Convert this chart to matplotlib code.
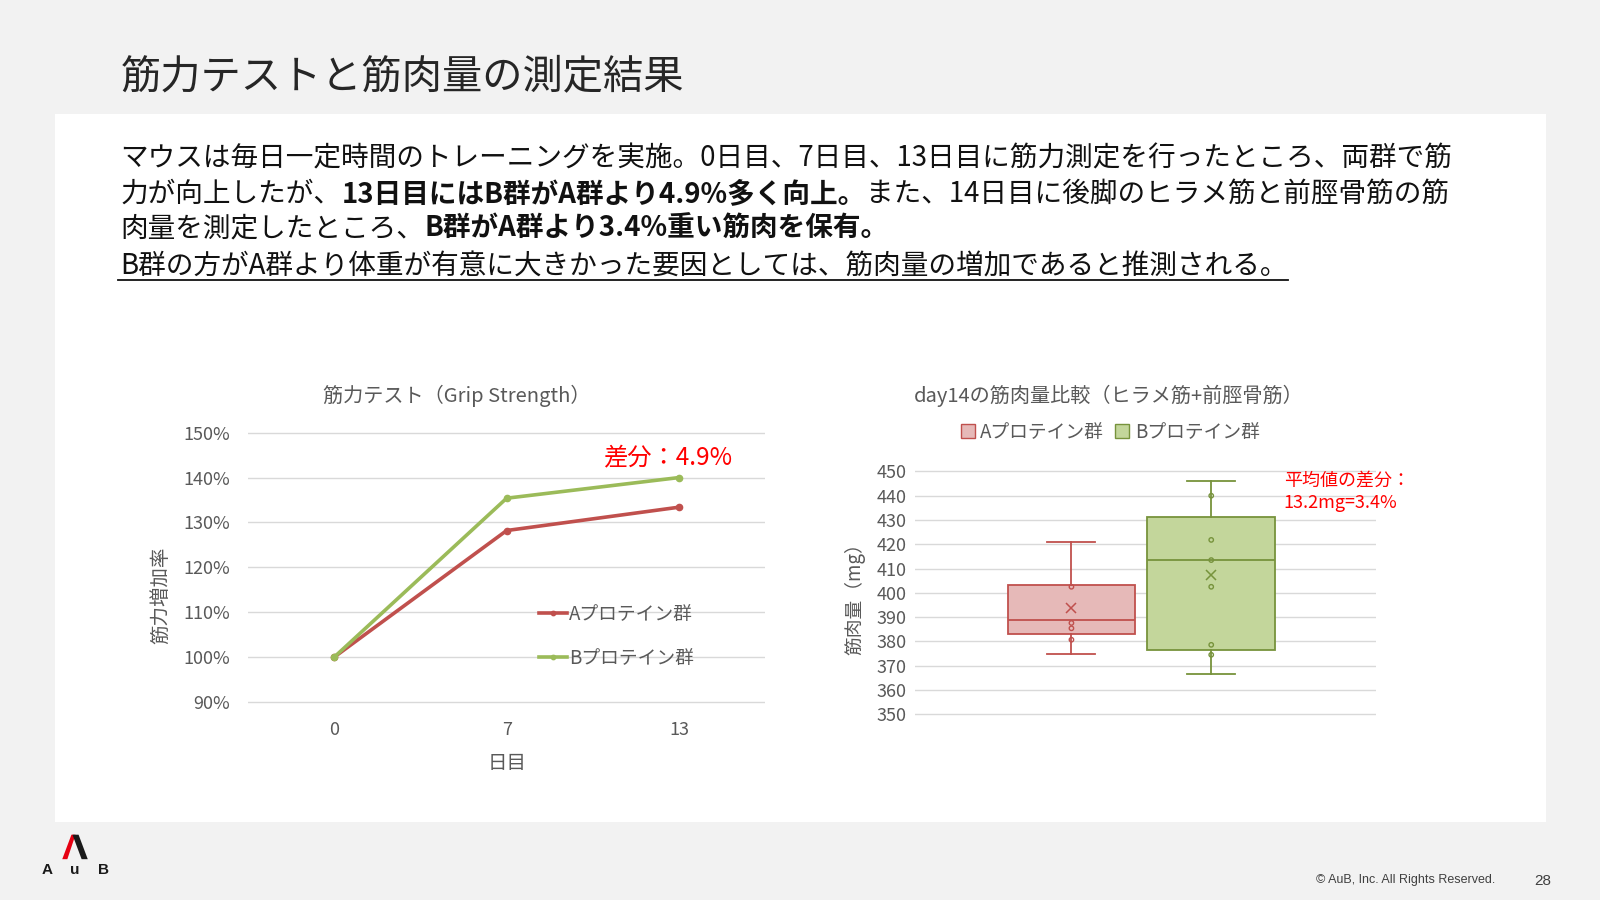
import matplotlib
matplotlib.use("Agg")
import matplotlib.pyplot as plt
from matplotlib.lines import Line2D
from matplotlib.patches import Rectangle, Polygon, Patch
from matplotlib.ticker import FuncFormatter

plt.rcParams['font.family'] = ['Noto Sans CJK JP', 'DejaVu Sans']

# ---- data ----
days = ['0', '7', '13']
grip_a = [1.00, 1.282, 1.334]
grip_b = [1.00, 1.354, 1.400]
grip_labels = ['Aプロテイン群', 'Bプロテイン群']

mass_groups = ['Aプロテイン群', 'Bプロテイン群']
mass_whislo = [374.8, 366.5]
mass_q1 = [383.0, 376.4]
mass_med = [388.8, 413.5]
mass_q3 = [403.4, 431.4]
mass_whishi = [421.0, 446.0]
mass_mean = [393.9, 407.5]
mass_points_a = [402.5, 387.6, 385.4, 380.7]
mass_points_b = [440.0, 421.8, 413.5, 402.5, 378.6, 374.5]

RED = '#c0504d'
GREEN = '#9bbb59'
GRID = '#d9d9d9'
TICK = '#595959'

W, H = 1568.0, 882.0   # reference pixel frame


def fx(px):
    return px / W


def fy(py):
    return 1 - py / H


fig = plt.figure(figsize=(16, 9), dpi=100, facecolor='#f2f2f2')

# white content panel
fig.add_artist(Rectangle((fx(54), fy(806)), fx(1515) - fx(54), (806 - 112) / H,
                         transform=fig.transFigure, facecolor='white',
                         edgecolor='none', zorder=0))

fig.text(fx(118), fy(75), '筋力テストと筋肉量の測定結果', fontsize=29,
         color='#262626', va='center', ha='left')

# ---- body text with bold runs ----
body = [
    [('マウスは毎日一定時間のトレーニングを実施。0日目、7日目、13日目に筋力測定を行ったところ、両群で筋', False)],
    [('力が向上したが、', False), ('13日目にはB群がA群より4.9%多く向上。', True),
     ('また、14日目に後脚のヒラメ筋と前脛骨筋の筋', False)],
    [('肉量を測定したところ、', False), ('B群がA群より3.4%重い筋肉を保有。', True)],
    [('B群の方がA群より体重が有意に大きかった要因としては、筋肉量の増加であると推測される。', False)],
]
line_y = [155, 190, 224, 261]
renderer = fig.canvas.get_renderer()
for i, runs in enumerate(body):
    x = fx(118)
    for s, bold in runs:
        t = fig.text(x, fy(line_y[i]), s, fontsize=19.9, color='#111111',
                     fontweight='bold' if bold else 'normal',
                     va='center', ha='left')
        x += t.get_window_extent(renderer=renderer).width / fig.bbox.width
    if i == 3:
        fig.add_artist(Line2D([fx(116), x], [fy(274), fy(274)],
                              transform=fig.transFigure, color='#111111', lw=1.3))

# ---- left chart: grip strength ----
pad1 = 0.005 * 440
ax1 = fig.add_axes([fx(243), fy(688 + pad1), fx(750) - fx(243), (264 + 2 * pad1) / H])
xs = range(len(days))
ax1.plot(xs, grip_a, color=RED, lw=2.6, marker='o', ms=4.5, label=grip_labels[0], zorder=3)
ax1.plot(xs, grip_b, color=GREEN, lw=2.6, marker='o', ms=4.5, label=grip_labels[1], zorder=3)
ax1.set_xlim(-0.5, 2.5)
ax1.set_ylim(0.895, 1.505)
ax1.set_yticks([0.9, 1.0, 1.1, 1.2, 1.3, 1.4, 1.5])
ax1.yaxis.set_major_formatter(FuncFormatter(lambda v, p: f'{v * 100:.0f}%'))
ax1.set_xticks(list(xs))
ax1.set_xticklabels(days)
ax1.grid(axis='y', color=GRID, lw=1)
ax1.set_axisbelow(True)
for sp in ax1.spines.values():
    sp.set_visible(False)
ax1.tick_params(length=0, labelsize=13, labelcolor=TICK)
ax1.tick_params(axis='y', pad=13)
ax1.tick_params(axis='x', pad=12)
ax1.set_xlabel('日目', fontsize=14, color=TICK, labelpad=10)
ax1.set_ylabel('筋力増加率', fontsize=14, color=TICK)
ax1.yaxis.set_label_coords((168 - 243) / 507, (688 - 583) / 264)
ax1.legend(loc='center left', bbox_to_anchor=((519 - 243) / 507, (688 - 622.5) / 264),
           frameon=False, fontsize=13.5, labelcolor=TICK, handlelength=1.5,
           handletextpad=0.1, labelspacing=1.25, borderpad=0, markerscale=0.7)
ax1.text(2.305, 1.4455, '差分：4.9%', fontsize=17.5, color='#ff0000',
         ha='right', va='center')
fig.text(fx(448), fy(388), '筋力テスト（Grip Strength）', fontsize=14.5,
         color=TICK, ha='center', va='center')

# ---- right chart: muscle mass boxplot ----
pad2 = 0.5 * 2.38
ax2 = fig.add_axes([fx(897), fy(700 + pad2), fx(1348) - fx(897), (238 + 2 * pad2) / H])
fills = ['#e6b9b8', '#c3d69b']
edges = [RED, '#77933c']
stats = []
for i in range(2):
    stats.append(dict(label=mass_groups[i], whislo=mass_whislo[i], q1=mass_q1[i],
                      med=mass_med[i], q3=mass_q3[i], whishi=mass_whishi[i],
                      mean=mass_mean[i], fliers=[]))
bp = ax2.bxp(stats, positions=[1, 2], widths=0.912, capwidths=0.343,
             patch_artist=True, showmeans=True, showfliers=False)
for i in range(2):
    bp['boxes'][i].set(facecolor=fills[i], edgecolor=edges[i], lw=1.3)
    bp['medians'][i].set(color=edges[i], lw=1.3)
    for k in (2 * i, 2 * i + 1):
        bp['whiskers'][k].set(color=edges[i], lw=1.3)
        bp['caps'][k].set(color=edges[i], lw=1.3)
    bp['means'][i].set(marker='x', markeredgecolor=edges[i], markerfacecolor='none',
                       markersize=7, markeredgewidth=1.1)
ax2.scatter([1] * len(mass_points_a), mass_points_a, s=10, facecolor='none',
            edgecolor=edges[0], lw=1, zorder=4)
ax2.scatter([2] * len(mass_points_b), mass_points_b, s=10, facecolor='none',
            edgecolor=edges[1], lw=1, zorder=4)
ax2.set_xlim(1 - 153 / 137, 2 + 161 / 137)
ax2.set_ylim(349.5, 450.5)
ax2.set_yticks(range(350, 451, 10))
ax2.set_xticks([])
ax2.grid(axis='y', color=GRID, lw=1)
ax2.set_axisbelow(True)
for sp in ax2.spines.values():
    sp.set_visible(False)
ax2.tick_params(length=0, labelsize=13, labelcolor=TICK, pad=6)
ax2.set_ylabel('筋肉量（mg）', fontsize=13.5, color=TICK)
ax2.yaxis.set_label_coords((848 - 897) / 451, (700 - 582) / 238)
handles = [Patch(facecolor=fills[i], edgecolor=edges[i], label=mass_groups[i]) for i in range(2)]
ax2.legend(handles=handles, loc='center', ncol=2,
           bbox_to_anchor=((1088 - 897) / 451, (700 - 425) / 238),
           frameon=False, fontsize=13.5, labelcolor=TICK, handlelength=0.75,
           handleheight=0.75, handletextpad=0.3, columnspacing=0.6, borderpad=0)
fig.text(fx(1087), fy(388), 'day14の筋肉量比較（ヒラメ筋+前脛骨筋）', fontsize=14.5,
         color=TICK, ha='center', va='center')
fig.text(fx(1258), fy(482), '平均値の差分：\n13.2mg=3.4%', fontsize=13,
         color='#ff0000', ha='left', va='center', linespacing=1.3)

# ---- footer ----
fig.add_artist(Polygon([(fx(61), fy(842)), (fx(66), fy(842)), (fx(74), fy(818)), (fx(70), fy(818))],
                       closed=True, transform=fig.transFigure, facecolor='#e60012', edgecolor='none'))
fig.add_artist(Polygon([(fx(71), fy(818)), (fx(77), fy(818)), (fx(86), fy(842)), (fx(80), fy(842))],
                       closed=True, transform=fig.transFigure, facecolor='#1a1a1a', edgecolor='none'))
for ch, px in zip(['A', 'u', 'B'], [46, 73, 101]):
    fig.text(fx(px), fy(853), ch, fontsize=11, fontweight='bold', color='#1a1a1a',
             ha='center', va='center', family=['Liberation Sans', 'DejaVu Sans'])
fig.text(fx(1465), fy(862), '© AuB, Inc. All Rights Reserved.', fontsize=9,
         color='#404040', ha='right', va='center', family=['Liberation Sans', 'DejaVu Sans'])
fig.text(fx(1512), fy(863), '28', fontsize=11, color='#404040', ha='center',
         va='center', family=['Liberation Sans', 'DejaVu Sans'])

fig.savefig('out.png', dpi=100, facecolor=fig.get_facecolor())
